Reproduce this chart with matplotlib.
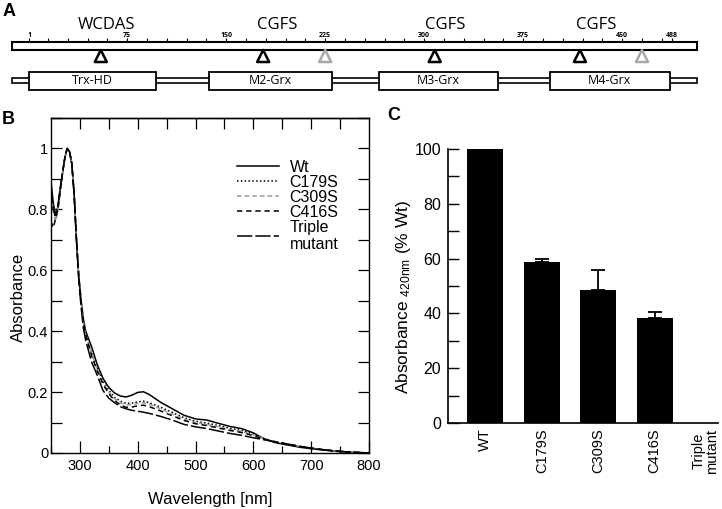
import numpy as np
import matplotlib.pyplot as plt
import matplotlib.transforms as mtransforms
from matplotlib.patches import Rectangle
from matplotlib.ticker import MultipleLocator

plt.rcParams['font.family'] = ['Liberation Sans', 'DejaVu Sans']

# --- Panel A: protein scheme (residue numbers) ---
protein_start, protein_end = -12, 507
scale_labels = [1, 75, 150, 225, 300, 375, 450, 488]
scale_ticks = [1] + list(range(15, 481, 15)) + [488]
motif_names = ['WCDAS', 'CGFS', 'CGFS', 'CGFS']
motif_label_pos = [59, 189, 316, 430]
site_pos = [55, 178, 225, 308, 418, 465]
site_color = ['black', 'black', '#a8a8a8', 'black', 'black', '#a8a8a8']
domain_names = ['Trx-HD', 'M2-Grx', 'M3-Grx', 'M4-Grx']
domain_start = [1, 137, 266, 395]
domain_end = [97, 230, 356, 486]

# --- Panel B: UV-vis spectra ---
wavelength = [250, 254, 258, 262, 266, 270, 274, 278, 282, 286, 290, 294, 298, 302,
              306, 310, 320, 330, 340, 350, 360, 370, 380, 390, 400, 410, 420, 440,
              460, 480, 500, 520, 540, 560, 580, 600, 620, 640, 660, 680, 700, 720,
              740, 760, 780, 800]
abs_wt = [0.89, 0.82, 0.78, 0.81, 0.87, 0.92, 0.97, 1.00, 0.99, 0.95, 0.85, 0.70, 0.58, 0.50,
          0.44, 0.40, 0.35, 0.29, 0.245, 0.215, 0.197, 0.187, 0.184, 0.19, 0.199, 0.201, 0.192, 0.166,
          0.145, 0.124, 0.112, 0.108, 0.097, 0.087, 0.080, 0.066, 0.045, 0.033, 0.026, 0.019, 0.014, 0.010,
          0.006, 0.003, 0.001, 0.0]
abs_c179s = [0.87, 0.80, 0.77, 0.80, 0.86, 0.92, 0.97, 1.00, 0.99, 0.95, 0.85, 0.70, 0.58, 0.50,
             0.43, 0.39, 0.33, 0.28, 0.235, 0.205, 0.183, 0.170, 0.163, 0.164, 0.168, 0.170, 0.165, 0.150,
             0.133, 0.116, 0.104, 0.098, 0.090, 0.081, 0.074, 0.062, 0.046, 0.035, 0.028, 0.021, 0.015, 0.011,
             0.007, 0.004, 0.002, 0.0]
abs_c309s = [0.85, 0.79, 0.76, 0.80, 0.86, 0.92, 0.97, 1.00, 0.99, 0.95, 0.85, 0.70, 0.58, 0.50,
             0.43, 0.39, 0.33, 0.275, 0.23, 0.20, 0.178, 0.165, 0.158, 0.159, 0.163, 0.165, 0.160, 0.145,
             0.128, 0.112, 0.100, 0.094, 0.086, 0.077, 0.070, 0.060, 0.046, 0.036, 0.029, 0.022, 0.016, 0.011,
             0.007, 0.004, 0.002, 0.0]
abs_c416s = [0.76, 0.74, 0.77, 0.80, 0.86, 0.92, 0.97, 1.00, 0.99, 0.95, 0.85, 0.70, 0.58, 0.50,
             0.43, 0.39, 0.32, 0.27, 0.225, 0.195, 0.172, 0.158, 0.150, 0.151, 0.155, 0.157, 0.152, 0.138,
             0.122, 0.107, 0.096, 0.090, 0.082, 0.074, 0.067, 0.057, 0.045, 0.036, 0.029, 0.022, 0.016, 0.011,
             0.007, 0.004, 0.002, 0.0]
abs_triple = [0.87, 0.80, 0.78, 0.81, 0.87, 0.92, 0.97, 1.00, 0.99, 0.95, 0.85, 0.70, 0.57, 0.48,
              0.41, 0.37, 0.30, 0.255, 0.205, 0.18, 0.165, 0.152, 0.145, 0.140, 0.137, 0.134, 0.130, 0.120,
              0.108, 0.094, 0.086, 0.080, 0.072, 0.064, 0.058, 0.050, 0.043, 0.036, 0.029, 0.022, 0.016, 0.011,
              0.007, 0.004, 0.002, 0.0]
series_labels = ['Wt', 'C179S', 'C309S', 'C416S', 'Triple\nmutant']

# --- Panel C: absorbance at 420 nm ---
strains = ['WT', 'C179S', 'C309S', 'C416S', 'Triple\nmutant']
abs420 = [100, 58.6, 48.5, 38.4, 0]
abs420_err = [0, 1.1, 7.3, 2.2, 0]

fig = plt.figure(figsize=(7.22, 5.09), dpi=100)
W, H = 722, 509

# ---------------- A ----------------
axA = fig.add_axes([0, 1 - 100 / H, 1, 100 / H])
axA.set_xlim((0 - 29.5) / 1.32 + 1, (W - 29.5) / 1.32 + 1)
axA.set_ylim(100, 0)
axA.axis('off')

axA.add_patch(Rectangle((protein_start, 41.7), protein_end - protein_start, 8.3,
                        facecolor='white', edgecolor='black', lw=1.5))
axA.vlines(scale_ticks, 38, 41.7, color='black', lw=0.8)
for r in scale_labels:
    axA.text(r, 35.5, str(r), ha='center', va='center', fontsize=5,
             fontweight='bold', family='Open Sans')
axA.scatter(site_pos, [56] * len(site_pos), marker='^', s=75, facecolors='white',
            edgecolors=site_color, linewidths=1.8, zorder=3)
for name, r in zip(motif_names, motif_label_pos):
    axA.text(r, 25, name, ha='center', va='center', fontsize=12, family='Open Sans')

axA.add_patch(Rectangle((protein_start, 77.5), protein_end - protein_start, 5,
                        facecolor='white', edgecolor='black', lw=1.2))
for name, s, e in zip(domain_names, domain_start, domain_end):
    axA.add_patch(Rectangle((s, 71.7), e - s, 18.3, facecolor='white',
                            edgecolor='black', lw=1.3, zorder=2))
    axA.text((s + e) / 2, 81, name, ha='center', va='center', fontsize=9,
             family='Open Sans', zorder=3)

# ---------------- B ----------------
axB = fig.add_axes([51 / W, 56 / H, 318 / W, 335 / H])
styles = [dict(color='black', ls='-', lw=1.1),
          dict(color='black', ls=(0, (1, 1.5)), lw=1.1),
          dict(color='#9a9a9a', ls=(0, (3, 2)), lw=1.1),
          dict(color='black', ls=(0, (3.5, 2.5)), lw=1.1),
          dict(color='black', ls=(0, (10, 2)), lw=1.1)]
for y, lab, st in zip([abs_wt, abs_c179s, abs_c309s, abs_c416s, abs_triple], series_labels, styles):
    axB.plot(wavelength, y, label=lab, **st)

axB.set_xlim(250, 800)
axB.set_ylim(0, 1.10)
axB.set_xticks([300, 400, 500, 600, 700, 800])
axB.xaxis.set_minor_locator(MultipleLocator(50))
axB.set_yticks([0, 0.2, 0.4, 0.6, 0.8, 1.0])
axB.set_yticklabels(['0', '0.2', '0.4', '0.6', '0.8', '1'])
axB.yaxis.set_minor_locator(MultipleLocator(0.1))
axB.tick_params(axis='x', which='major', direction='in', length=9, width=0.9, labelsize=10.5, pad=4)
axB.tick_params(axis='x', which='minor', direction='in', length=5, width=0.9)
axB.tick_params(axis='y', which='both', direction='in', length=8, width=0.9, right=True)
axB.tick_params(axis='y', which='major', labelsize=10.5, pad=2)
secB = axB.secondary_xaxis('top')
secB.set_xticks([300, 350, 400, 450, 500, 550, 600, 650, 700, 750])
secB.tick_params(direction='in', length=8, width=0.9, labeltop=False)
for sp in list(axB.spines.values()) + list(secB.spines.values()):
    sp.set_linewidth(1.0)
axB.set_xlabel('Wavelength [nm]', fontsize=12)
axB.xaxis.set_label_coords(0.5, -0.115)
axB.set_ylabel('Absorbance', fontsize=12)
axB.yaxis.set_label_coords(-0.08, 0.463)
axB.legend(loc='upper left', bbox_to_anchor=(0.585, 0.875), frameon=False, fontsize=11.5,
           handlelength=2.6, handletextpad=0.7, labelspacing=0.0, borderpad=0,
           borderaxespad=0)

# ---------------- C ----------------
axC = fig.add_axes([448 / W, 86 / H, 270 / W, 274 / H])
x = np.arange(len(strains))
axC.bar(x, abs420, width=0.64, color='black')
err = np.array(abs420_err)
m = err > 0
axC.errorbar(x[m], np.array(abs420)[m], yerr=[np.zeros(m.sum()), err[m]], fmt='none',
             ecolor='black', elinewidth=1.3, capsize=5, capthick=1.3)
axC.set_xlim(-0.66, 4.12)
axC.set_ylim(0, 100)
axC.spines['top'].set_visible(False)
axC.spines['right'].set_visible(False)
axC.spines['left'].set_linewidth(1.2)
axC.spines['bottom'].set_linewidth(1.2)
axC.set_yticks([0, 20, 40, 60, 80, 100])
axC.yaxis.set_minor_locator(MultipleLocator(10))
axC.tick_params(axis='y', which='both', direction='in', length=8, width=1.0)
axC.tick_params(axis='y', which='major', labelsize=11.5, pad=5)
axC.set_xticks(x)
axC.set_xticklabels(strains, rotation=90, fontsize=10.5, linespacing=1.0)
axC.tick_params(axis='x', length=0, pad=4)
# keep the two-line label inside the figure
last = axC.get_xticklabels()[-1]
last.set_transform(last.get_transform() +
                   mtransforms.ScaledTranslation(-6 / 100, 0, fig.dpi_scale_trans))
axC.set_ylabel('Absorbance $\\mathregular{_{420nm}}$ (% Wt)', fontsize=12.5)
axC.yaxis.set_label_coords(-0.13, 0.46)

# panel letters
fig.text(9 / W, 1 - 11 / H, 'A', fontsize=13, fontweight='bold', ha='center', va='center')
fig.text(8 / W, 1 - 120 / H, 'B', fontsize=13, fontweight='bold', ha='center', va='center')
fig.text(394 / W, 1 - 116 / H, 'C', fontsize=13, fontweight='bold', ha='center', va='center')

fig.savefig('out.png', dpi=100)
